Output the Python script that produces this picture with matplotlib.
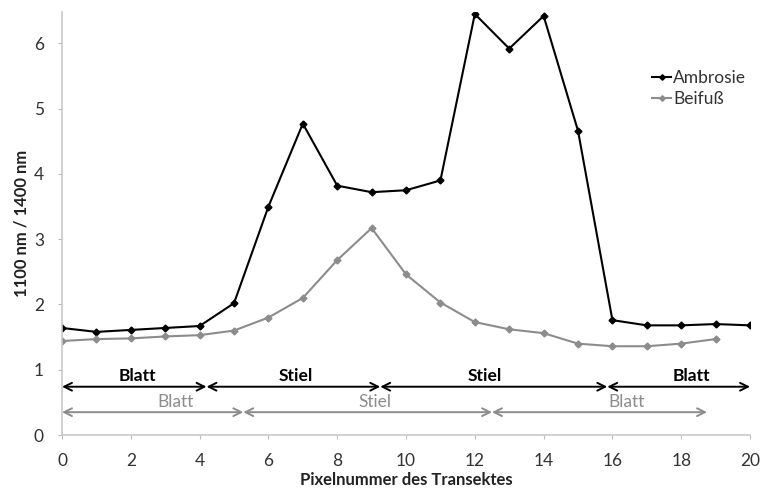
import matplotlib
matplotlib.use("Agg")
import matplotlib.pyplot as plt

plt.rcParams['font.family'] = ['Lato', 'DejaVu Sans']

x_amb = list(range(21))
ambrosie = [1.64, 1.58, 1.61, 1.64, 1.67, 2.02, 3.50, 4.77, 3.82, 3.72, 3.75,
            3.90, 6.45, 5.92, 6.42, 4.66, 1.76, 1.68, 1.68, 1.70, 1.68]
x_bei = list(range(20))
beifuss = [1.44, 1.47, 1.48, 1.51, 1.53, 1.60, 1.80, 2.10, 2.68, 3.17, 2.46,
           2.03, 1.73, 1.62, 1.56, 1.40, 1.36, 1.36, 1.40, 1.47]

# segment annotations: (start, end, label, label_x)
amb_segments = [(0, 4.2, "Blatt", 2.2), (4.2, 9.25, "Stiel", 6.8),
                (9.25, 15.85, "Stiel", 12.3), (15.85, 20, "Blatt", 18.3)]
bei_segments = [(0, 5.27, "Blatt", 3.3), (5.27, 12.5, "Stiel", 9.1),
                (12.5, 18.75, "Blatt", 16.4)]

black = "#000000"
gray = "#8c8c8c"

fig = plt.figure(figsize=(7.64, 4.93), dpi=100)
ax = fig.add_axes([0.0812, 0.1176, 0.9005, 0.858])

ax.plot(x_amb, ambrosie, color=black, marker="D", markersize=3.5, lw=1.5, label="Ambrosie")
ax.plot(x_bei, beifuss, color=gray, marker="D", markersize=3.5, lw=1.5, label="Beifuß")

for s, e, lab, lx in amb_segments:
    ax.annotate("", xy=(e, 0.74), xytext=(s, 0.74),
                arrowprops=dict(arrowstyle="<->", color=black, lw=1.4,
                                shrinkA=0, shrinkB=0, mutation_scale=14))
    ax.text(lx, 0.78, lab, ha="center", va="bottom", fontsize=12.5, fontweight="bold", color=black)
for s, e, lab, lx in bei_segments:
    ax.annotate("", xy=(e, 0.35), xytext=(s, 0.35),
                arrowprops=dict(arrowstyle="<->", color=gray, lw=1.4,
                                shrinkA=0, shrinkB=0, mutation_scale=14))
    ax.text(lx, 0.38, lab, ha="center", va="bottom", fontsize=12.5, color=gray)

ax.set_xlim(0, 20)
ax.set_ylim(0, 6.48)
ax.set_xticks(range(0, 21, 2))
ax.set_yticks(range(0, 7))
ax.tick_params(axis="both", colors="#bbbbbb", labelcolor="#333333", labelsize=12.5, length=3, direction="out")
ax.tick_params(axis="x", pad=10)
ax.tick_params(axis="y", pad=10)
for side in ["top", "right"]:
    ax.spines[side].set_visible(False)
for side in ["left", "bottom"]:
    ax.spines[side].set_color("#c8c8c8")
    ax.spines[side].set_linewidth(1.2)

ax.set_xlabel("Pixelnummer des Transektes", fontsize=12, fontweight="bold", color="#222222", labelpad=2)
ax.set_ylabel("1100 nm / 1400 nm", fontsize=12, fontweight="bold", color="#222222", labelpad=3)

ax.legend(loc="upper left", bbox_to_anchor=(0.835, 0.9), frameon=False, fontsize=12.5,
          handlelength=1.1, handletextpad=0.1, labelspacing=0.3, labelcolor="#333333",
          markerscale=0.8)

fig.savefig("out.png", dpi=100, facecolor="white")
